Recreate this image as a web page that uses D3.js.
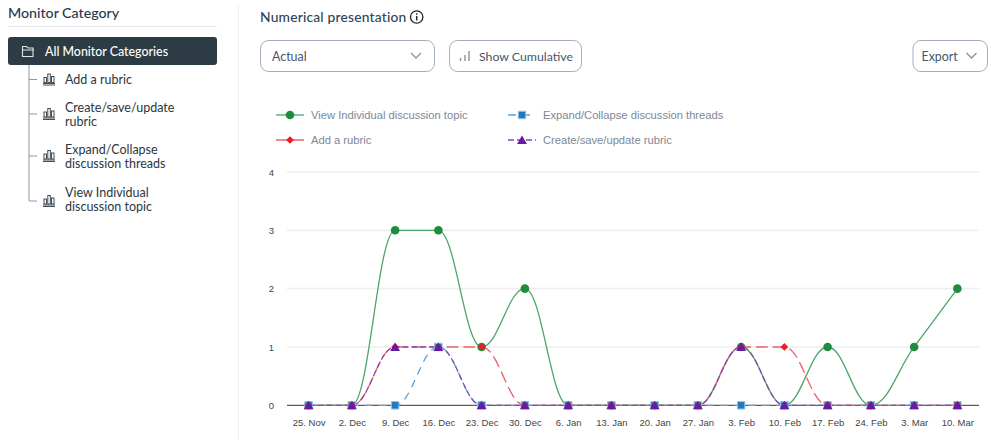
<!DOCTYPE html>
<html>
<head>
<meta charset="utf-8">
<script src="https://cdn.jsdelivr.net/npm/d3@7"></script>
<style>
  html, body { margin: 0; padding: 0; background: #fff; overflow: hidden; }
  svg { display: block; font-family: Lato, sans-serif; }
  .chart-text { font-family: "Liberation Sans", Arial, sans-serif; }
  .axis .domain { display: none; }
  .axis .tick line { display: none; }
</style>
</head>
<body>
<svg id="page" width="999" height="440"></svg>
<script>
const weeks = ["25. Nov", "2. Dec", "9. Dec", "16. Dec", "23. Dec", "30. Dec", "6. Jan", "13. Jan",
  "20. Jan", "27. Jan", "3. Feb", "10. Feb", "17. Feb", "24. Feb", "3. Mar", "10. Mar"];
const viewTopic = [0, 0, 3, 3, 1, 2, 0, 0, 0, 0, 1, 0, 1, 0, 1, 2];
const expandThreads = [0, 0, 0, 1, 0, 0, 0, 0, 0, 0, 0, 0, 0, 0, 0, 0];
const addRubric = [0, 0, 1, 1, 1, 0, 0, 0, 0, 0, 1, 1, 0, 0, 0, 0];
const createRubric = [0, 0, 1, 1, 0, 0, 0, 0, 0, 0, 1, 0, 0, 0, 0, 0];
const yTicks = [0, 1, 2, 3, 4];
const treeItems = [
  ["Add a rubric"],
  ["Create/save/update", "rubric"],
  ["Expand/Collapse", "discussion threads"],
  ["View Individual", "discussion topic"]
];

const series = [
  { name: "View Individual discussion topic", values: viewTopic, color: "#1e8e3e", line: "#4ca66b", dash: null, symbol: d3.symbolCircle, size: 58, col: 0, row: 0 },
  { name: "Expand/Collapse discussion threads", values: expandThreads, color: "#2777bd", line: "#5aa0d8", dash: "8,6", symbol: d3.symbolSquare, size: 56, halo: "#94c5ea", col: 1, row: 0 },
  { name: "Add a rubric", values: addRubric, color: "#ee1c25", line: "#f0606a", dash: "12,5", symbol: d3.symbolSquare, size: 30, rotate: 45, col: 0, row: 1 },
  { name: "Create/save/update rubric", values: createRubric, color: "#671ba0", line: "#8a45b8", dash: "6,3", symbol: d3.symbolTriangle, size: 42, dy: 1.2, col: 1, row: 1 }
];

// smooth line that flattens at turning points, controls at 0.4 of each step
function splineCurve(context) {
  let pts;
  const smoothing = 1.5;
  return {
    areaStart() {},
    areaEnd() {},
    lineStart() { pts = []; },
    point(px, py) { pts.push([+px, +py]); },
    lineEnd() {
      const left = [], right = [];
      pts.forEach((p, i) => {
        if (i === 0 || i === pts.length - 1) {
          left[i] = p.slice();
          right[i] = p.slice();
          return;
        }
        const a = pts[i - 1], b = pts[i + 1];
        const lx = (smoothing * p[0] + a[0]) / (smoothing + 1);
        let ly = (smoothing * p[1] + a[1]) / (smoothing + 1);
        const rx = (smoothing * p[0] + b[0]) / (smoothing + 1);
        let ry = (smoothing * p[1] + b[1]) / (smoothing + 1);
        const fix = ((ry - ly) * (rx - p[0])) / (rx - lx) + p[1] - ry;
        ly += fix;
        ry += fix;
        if (ly > Math.max(a[1], p[1])) { ly = Math.max(a[1], p[1]); ry = 2 * p[1] - ly; }
        else if (ly < Math.min(a[1], p[1])) { ly = Math.min(a[1], p[1]); ry = 2 * p[1] - ly; }
        if (ry > Math.max(p[1], b[1])) { ry = Math.max(p[1], b[1]); ly = 2 * p[1] - ry; }
        else if (ry < Math.min(p[1], b[1])) { ry = Math.min(p[1], b[1]); ly = 2 * p[1] - ry; }
        left[i] = [lx, ly];
        right[i] = [rx, ry];
      });
      pts.forEach((p, i) => {
        if (i === 0) context.moveTo(p[0], p[1]);
        else context.bezierCurveTo(right[i - 1][0], right[i - 1][1], left[i][0], left[i][1], p[0], p[1]);
      });
    }
  };
}

const svg = d3.select("#page");
const ink = "#2d3b45";

// left panel
svg.append("rect").attr("x", 238).attr("y", 5).attr("width", 1).attr("height", 435).attr("fill", "#edf0f2");
svg.append("text").attr("x", 8).attr("y", 18).attr("font-size", 14.2).attr("font-weight", 500).attr("fill", "#24394d").text("Monitor Category");
svg.append("rect").attr("x", 8).attr("y", 26).attr("width", 209).attr("height", 1).attr("fill", "#e6e9ec");
svg.append("rect").attr("x", 8).attr("y", 37).attr("width", 209).attr("height", 28).attr("rx", 3).attr("fill", ink);
svg.append("path").attr("d", "M22.5 56.5v-10h4l1.5 1.500h5v8.500zM22.500 50h11.500")
  .attr("fill", "none").attr("stroke", "#dfe4e8").attr("stroke-width", 1.1);
svg.append("text").attr("x", 45).attr("y", 56).attr("font-size", 12.4).attr("font-weight", 500).attr("fill", "#fff").text("All Monitor Categories");

const treeY = [79.5, 114, 156, 201];
const treeTextY = [84, 112, 154, 197];
svg.append("line").attr("x1", 29).attr("x2", 29).attr("y1", 65).attr("y2", 201).attr("stroke", "#8a97a3");
treeItems.forEach((lines, i) => {
  const y = treeY[i];
  svg.append("line").attr("x1", 29).attr("x2", 37).attr("y1", y).attr("y2", y).attr("stroke", "#8a97a3");
  const icon = svg.append("g").attr("fill", "none").attr("stroke", ink).attr("stroke-width", 0.9);
  icon.append("path").attr("d", `M43 ${y + 4}h12M43 ${y + 5.500}h12`);
  icon.append("rect").attr("x", 44).attr("y", y - 2).attr("width", 2.5).attr("height", 5);
  icon.append("rect").attr("x", 47.800).attr("y", y - 5.500).attr("width", 2.5).attr("height", 8.500);
  icon.append("rect").attr("x", 51.500).attr("y", y - 3).attr("width", 2.5).attr("height", 6);
  lines.forEach((t, j) => {
    svg.append("text").attr("x", 65).attr("y", treeTextY[i] + j * 14).attr("font-size", 12.5).attr("fill", "#2b3640").text(t);
  });
});

// toolbar
svg.append("text").attr("x", 260).attr("y", 22).attr("font-size", 13.8).attr("font-weight", 500).attr("fill", "#2f4454").attr("letter-spacing", 0.2).text("Numerical presentation");
svg.append("circle").attr("cx", 416.700).attr("cy", 17).attr("r", 6.200).attr("fill", "none").attr("stroke", "#222").attr("stroke-width", 1.3);
svg.append("rect").attr("x", 416).attr("y", 16).attr("width", 1.400).attr("height", 4.500).attr("fill", "#222");
svg.append("rect").attr("x", 416).attr("y", 13.300).attr("width", 1.400).attr("height", 1.500).attr("fill", "#222");

function button(bx, w) {
  svg.append("rect").attr("x", bx + 0.5).attr("y", 40.5).attr("width", w).attr("height", 31).attr("rx", 8)
    .attr("fill", "#fff").attr("stroke", "#a3aebb").attr("stroke-width", 1);
}
function chevron(cx, cy) {
  svg.append("path").attr("d", `M${cx - 5} ${cy - 3}L${cx} ${cy + 2}L${cx + 5} ${cy - 3}`)
    .attr("fill", "none").attr("stroke", "#8794a3").attr("stroke-width", 1.3);
}
button(260, 174);
svg.append("text").attr("x", 272).attr("y", 61).attr("font-size", 12.4).attr("fill", "#46566a").text("Actual");
chevron(416, 56);
button(449, 132);
svg.append("path").attr("d", "M460.500 61v-3M465 61v-6M469 61v-10").attr("stroke", "#8794a3").attr("stroke-width", 1.4).attr("fill", "none");
svg.append("text").attr("x", 479).attr("y", 61).attr("font-size", 12.3).attr("fill", "#46566a").text("Show Cumulative");
button(912.500, 74.500);
svg.append("text").attr("x", 921.500).attr("y", 61).attr("font-size", 12.4).attr("fill", "#46566a").text("Export");
chevron(971.500, 56);

// chart
const x = d3.scalePoint().domain(weeks).range([287, 979]).padding(0.5);
const y = d3.scaleLinear().domain([0, 4]).range([405.3, 172]);

const chart = svg.append("g").attr("class", "chart-text");
chart.selectAll("line.grid").data(yTicks.filter(d => d > 0)).join("line").attr("class", "grid")
  .attr("x1", 287).attr("x2", 979).attr("y1", d => y(d)).attr("y2", d => y(d))
  .attr("stroke", "#eeeeee").attr("stroke-width", 1.6);

const xAxis = chart.append("g").attr("class", "axis").attr("transform", "translate(0,405.3)")
  .call(d3.axisBottom(x).tickSize(0).tickPadding(14));
xAxis.selectAll("text").attr("font-size", 9.500).attr("fill", "#444").attr("font-family", "Liberation Sans");
const yAxis = chart.append("g").attr("class", "axis").attr("transform", "translate(274,0)")
  .call(d3.axisLeft(y).tickValues(yTicks).tickFormat(d3.format("d")).tickSize(0).tickPadding(0));
yAxis.selectAll("text").attr("font-size", 9.500).attr("fill", "#444").attr("font-family", "Liberation Sans");
chart.append("line").attr("x1", 287).attr("x2", 979).attr("y1", y(0)).attr("y2", y(0)).attr("stroke", "#333").attr("stroke-width", 1);

const line = d3.line().x((d, i) => x(weeks[i])).y(d => y(d)).curve(splineCurve);
series.forEach(s => {
  chart.append("path").attr("d", line(s.values)).attr("fill", "none")
    .attr("stroke", s.line).attr("stroke-width", 1.300).attr("stroke-dasharray", s.dash);
});

function drawMarker(sel, s) {
  sel.attr("d", d3.symbol(s.symbol, s.size)).attr("fill", s.color);
  if (s.halo) sel.attr("stroke", s.halo).attr("stroke-width", 1);
}
series.forEach(s => {
  chart.selectAll(null).data(s.values).join("path")
    .call(drawMarker, s)
    .attr("transform", (d, i) => `translate(${x(weeks[i])},${y(d) + (s.dy || 0)}) rotate(${s.rotate || 0})`);
});

// legend
const legendX = [276, 508], legendY = [115, 140];
series.forEach(s => {
  const lx = legendX[s.col], ly = legendY[s.row];
  chart.append("line").attr("x1", lx).attr("x2", lx + 28).attr("y1", ly).attr("y2", ly)
    .attr("stroke", s.line).attr("stroke-width", 1.300).attr("stroke-dasharray", s.dash);
  chart.append("path").call(drawMarker, s)
    .attr("transform", `translate(${lx + 14},${ly + (s.dy || 0)}) rotate(${s.rotate || 0})`);
  chart.append("text").attr("x", lx + 35).attr("y", ly + 3.700).attr("font-size", 11.200).attr("fill", "#7d8894").text(s.name);
});
</script>
</body>
</html>
